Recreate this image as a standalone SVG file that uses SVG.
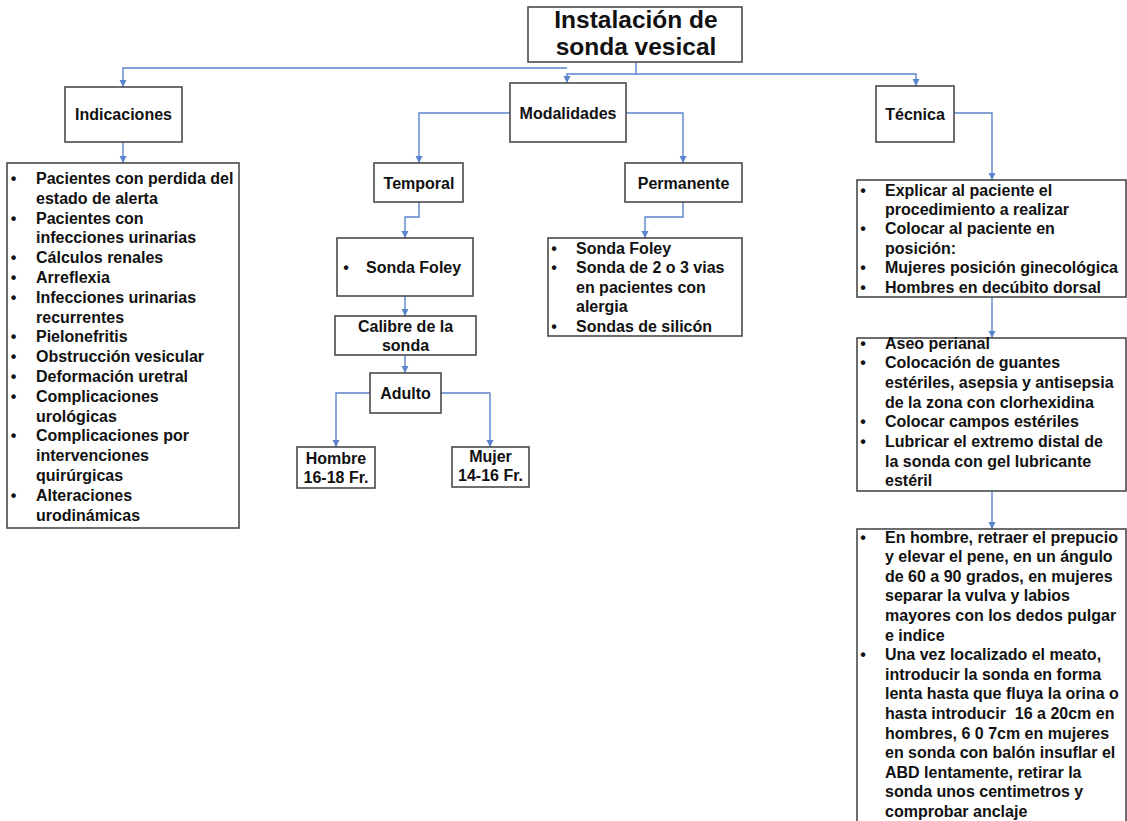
<svg xmlns="http://www.w3.org/2000/svg" width="1127" height="821" viewBox="0 0 1127 821">
<defs>
<marker id="arr" markerUnits="userSpaceOnUse" markerWidth="8" markerHeight="8" refX="7" refY="3.5" orient="auto">
<path d="M0,0 L7,3.5 L0,7 z" fill="#5a84cc"/>
</marker>
</defs>
<style>
.box{fill:#fff;stroke:#4a4a4a;stroke-width:1.6}
.t{font-family:"Liberation Sans",Arial,sans-serif;font-weight:bold;font-size:16px;fill:#111}
.c{text-anchor:middle}
.title{font-family:"Liberation Sans",Arial,sans-serif;font-weight:bold;font-size:24.5px;fill:#111;text-anchor:middle}
.conn path{fill:none;stroke:#5a84cc;stroke-width:1.4}
.ar{marker-end:url(#arr)}
</style>
<rect width="1127" height="821" fill="#fff"/>

<g id="connectors" class="conn">
<path class="ar" d="M636 62 V74 H567 V83"/>
<path class="ar" d="M636 74 H916 V86"/>
<path class="ar" d="M567 68 H123 V87"/>
<path class="ar" d="M123 142 V163"/>
<path class="ar" d="M510 113 H419 V163"/>
<path class="ar" d="M626 113 H683 V163"/>
<path class="ar" d="M419 202 V217 H405 V238"/>
<path class="ar" d="M683 202 V217 H645 V238"/>
<path class="ar" d="M405 296 V316"/>
<path class="ar" d="M405 355 V373"/>
<path class="ar" d="M370 393 H336 V447"/>
<path class="ar" d="M441 393 H490 V447"/>
<path class="ar" d="M954 113 H992 V180"/>
<path class="ar" d="M992 297 V338"/>
<path class="ar" d="M992 491 V529"/>
</g>

<g id="title">
<rect class="box" x="528" y="7" width="214" height="55"/>
<text class="title" x="636" y="28">Instalación de</text>
<text class="title" x="636" y="55">sonda vesical</text>
</g>

<g id="indicaciones">
<rect class="box" x="65" y="87" width="117" height="55"/>
<text class="t c" x="123.5" y="119.5">Indicaciones</text>
</g>

<g id="indicaciones-list">
<rect class="box" x="7" y="163" width="232" height="365"/>
<g class="t">
<text x="13.5" y="184" class="c">•</text><text x="36" y="184">Pacientes con perdida del</text>
<text x="36" y="203.8">estado de alerta</text>
<text x="13.5" y="223.6" class="c">•</text><text x="36" y="223.6">Pacientes con</text>
<text x="36" y="243.4">infecciones urinarias</text>
<text x="13.5" y="263.2" class="c">•</text><text x="36" y="263.2">Cálculos renales</text>
<text x="13.5" y="283" class="c">•</text><text x="36" y="283">Arreflexia</text>
<text x="13.5" y="302.8" class="c">•</text><text x="36" y="302.8">Infecciones urinarias</text>
<text x="36" y="322.6">recurrentes</text>
<text x="13.5" y="342.4" class="c">•</text><text x="36" y="342.4">Pielonefritis</text>
<text x="13.5" y="362.2" class="c">•</text><text x="36" y="362.2">Obstrucción vesicular</text>
<text x="13.5" y="382" class="c">•</text><text x="36" y="382">Deformación uretral</text>
<text x="13.5" y="401.8" class="c">•</text><text x="36" y="401.8">Complicaciones</text>
<text x="36" y="421.6">urológicas</text>
<text x="13.5" y="441.4" class="c">•</text><text x="36" y="441.4">Complicaciones por</text>
<text x="36" y="461.2">intervenciones</text>
<text x="36" y="481">quirúrgicas</text>
<text x="13.5" y="500.8" class="c">•</text><text x="36" y="500.8">Alteraciones</text>
<text x="36" y="520.6">urodinámicas</text>
</g>
</g>

<g id="modalidades">
<rect class="box" x="510" y="83" width="116" height="59"/>
<text class="t c" x="568" y="118.5">Modalidades</text>
</g>

<g id="temporal">
<rect class="box" x="374" y="163" width="89" height="39"/>
<text class="t c" x="419" y="188.5">Temporal</text>
</g>

<g id="permanente">
<rect class="box" x="625" y="163" width="117" height="39"/>
<text class="t c" x="683.5" y="188.5">Permanente</text>
</g>

<g id="sonda-foley">
<rect class="box" x="337" y="238" width="136" height="58"/>
<text class="t c" x="346" y="272.5">•</text>
<text class="t" x="366" y="272.5">Sonda Foley</text>
</g>

<g id="permanente-list">
<rect class="box" x="548" y="238" width="194" height="98"/>
<g class="t">
<text x="554" y="253.5" class="c">•</text><text x="576" y="253.5">Sonda Foley</text>
<text x="554" y="273.1" class="c">•</text><text x="576" y="273.1">Sonda de 2 o 3 vias</text>
<text x="576" y="292.7">en pacientes con</text>
<text x="576" y="312.3">alergia</text>
<text x="554" y="331.9" class="c">•</text><text x="576" y="331.9">Sondas de silicón</text>
</g>
</g>

<g id="calibre">
<rect class="box" x="335" y="316" width="141" height="39"/>
<text class="t c" x="405.5" y="331.5">Calibre de la</text>
<text class="t c" x="405.5" y="350.5">sonda</text>
</g>

<g id="adulto">
<rect class="box" x="370" y="373" width="71" height="40"/>
<text class="t c" x="405.5" y="398.5">Adulto</text>
</g>

<g id="hombre">
<rect class="box" x="297" y="447" width="78" height="41"/>
<text class="t c" x="336" y="463.5">Hombre</text>
<text class="t c" x="336" y="482.5">16-18 Fr.</text>
</g>

<g id="mujer">
<rect class="box" x="452" y="447" width="77" height="40"/>
<text class="t c" x="490.5" y="462">Mujer</text>
<text class="t c" x="490.5" y="481">14-16 Fr.</text>
</g>

<g id="tecnica">
<rect class="box" x="876" y="86" width="78" height="56"/>
<text class="t c" x="915" y="119.5">Técnica</text>
</g>

<g id="tecnica-1">
<rect class="box" x="857" y="180" width="269" height="117"/>
<g class="t">
<text x="863" y="195.5" class="c">•</text><text x="885" y="195.5">Explicar al paciente el</text>
<text x="885" y="214.9">procedimiento a realizar</text>
<text x="863" y="234.3" class="c">•</text><text x="885" y="234.3">Colocar al paciente en</text>
<text x="885" y="253.7">posición:</text>
<text x="863" y="273.1" class="c">•</text><text x="885" y="273.1">Mujeres posición ginecológica</text>
<text x="863" y="292.5" class="c">•</text><text x="885" y="292.5">Hombres en decúbito dorsal</text>
</g>
</g>

<g id="tecnica-2">
<rect class="box" x="857" y="338" width="269" height="153"/>
<g class="t">
<text x="863" y="348.5" class="c">•</text><text x="885" y="348.5">Aseo perianal</text>
<text x="863" y="368.2" class="c">•</text><text x="885" y="368.2">Colocación de guantes</text>
<text x="885" y="387.9">estériles, asepsia y antisepsia</text>
<text x="885" y="407.6">de la zona con clorhexidina</text>
<text x="863" y="427.3" class="c">•</text><text x="885" y="427.3">Colocar campos estériles</text>
<text x="863" y="447" class="c">•</text><text x="885" y="447">Lubricar el extremo distal de</text>
<text x="885" y="466.7">la sonda con gel lubricante</text>
<text x="885" y="486.4">estéril</text>
</g>
</g>

<g id="tecnica-3">
<rect class="box" x="857" y="529" width="269" height="310"/>
<g class="t">
<text x="863" y="542.5" class="c">•</text><text x="885" y="542.5">En hombre, retraer el prepucio</text>
<text x="885" y="562.1">y elevar el pene, en un ángulo</text>
<text x="885" y="581.7">de 60 a 90 grados, en mujeres</text>
<text x="885" y="601.3">separar la vulva y labios</text>
<text x="885" y="620.9">mayores con los dedos pulgar</text>
<text x="885" y="640.5">e indice</text>
<text x="863" y="660.1" class="c">•</text><text x="885" y="660.1">Una vez localizado el meato,</text>
<text x="885" y="679.7">introducir la sonda en forma</text>
<text x="885" y="699.3">lenta hasta que fluya la orina o</text>
<text x="885" y="718.9" style="white-space:pre">hasta introducir  16 a 20cm en</text>
<text x="885" y="738.5">hombres, 6 0 7cm en mujeres</text>
<text x="885" y="758.1">en sonda con balón insuflar el</text>
<text x="885" y="777.7">ABD lentamente, retirar la</text>
<text x="885" y="797.3">sonda unos centimetros y</text>
<text x="885" y="816.9">comprobar anclaje</text>
</g>
</g>
</svg>
